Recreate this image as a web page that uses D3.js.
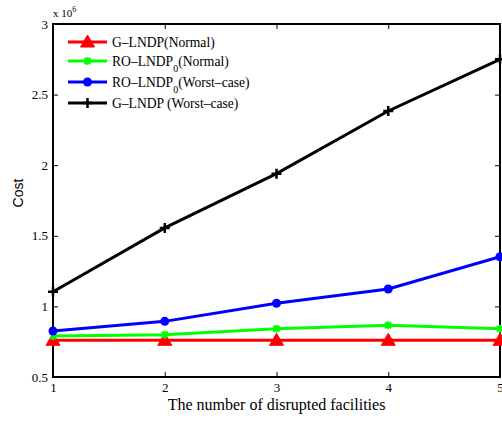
<!DOCTYPE html>
<html>
<head>
<meta charset="utf-8">
<script src="https://cdn.jsdelivr.net/npm/d3@7"></script>
<style>
body{margin:0;background:#fff;}
svg{display:block;}
</style>
</head>
<body>
<svg></svg>
<script>
var width=502;
var height=421;
var padLeft=53, padRight=500, padTop=24, padBottom=377;

var facilities=[1,2,3,4,5];
var gNormal=[0.76,0.76,0.76,0.76,0.76];
var roNormal=[0.79,0.80,0.842,0.866,0.842];
var roWorst=[0.826,0.894,1.022,1.123,1.352];
var gWorst=[1.104,1.556,1.94,2.384,2.75];
var yTicks=[0.5,1,1.5,2,2.5,3];
var legendNames=["G\u2013LNDP(Normal)","RO\u2013LNDP0(Normal)","RO\u2013LNDP0(Worst\u2013case)","G\u2013LNDP (Worst\u2013case)"];

var series=[
	{vals:gNormal,color:"#ff0000",marker:"tri"},
	{vals:roNormal,color:"#00ff00",marker:"x"},
	{vals:roWorst,color:"#0000ff",marker:"dot"},
	{vals:gWorst,color:"#000000",marker:"plus"}
];

var svg=d3.select("svg")
	.attr("width",width)
	.attr("height",height);

var scalex=d3.scaleLinear()
	.domain([1,5])
	.range([padLeft,padRight]);

var scaley=d3.scaleLinear()
	.domain([0.5,3])
	.range([padBottom,padTop]);

// axes, ticks pointing inward like matlab
svg.append("g")
	.attr("transform","translate(0,"+padBottom+")")
	.call(d3.axisBottom(scalex).tickValues(facilities).tickFormat(d3.format("d")).tickSizeInner(-5).tickSizeOuter(0).tickPadding(6))
	.call(g=>g.select(".domain").remove());

svg.append("g")
	.attr("transform","translate(0,"+padTop+")")
	.call(d3.axisTop(scalex).tickValues(facilities).tickFormat("").tickSizeInner(-5).tickSizeOuter(0))
	.call(g=>g.select(".domain").remove());

svg.append("g")
	.attr("transform","translate("+padLeft+",0)")
	.call(d3.axisLeft(scaley).tickValues(yTicks).tickFormat(d=>d).tickSizeInner(-5).tickSizeOuter(0).tickPadding(5))
	.call(g=>g.select(".domain").remove());

svg.append("g")
	.attr("transform","translate("+padRight+",0)")
	.call(d3.axisRight(scaley).tickValues(yTicks).tickFormat("").tickSizeInner(-5).tickSizeOuter(0))
	.call(g=>g.select(".domain").remove());

svg.selectAll(".tick line").attr("stroke","#000");
svg.selectAll(".tick text")
	.attr("fill","#000")
	.style("font-family","Liberation Serif, serif")
	.style("font-size","13px");

svg.append("rect")
	.attr("x",padLeft)
	.attr("y",padTop)
	.attr("width",padRight-padLeft)
	.attr("height",padBottom-padTop)
	.attr("fill","none")
	.attr("stroke","#000")
	.attr("stroke-width",2);

var line=d3.line()
	.x((d,i)=>scalex(facilities[i]))
	.y(d=>scaley(d));

function drawMarker(g,type,x,y,color)
{
	if(type=="tri"){
		g.append("path")
			.attr("d","M"+x+","+(y-7)+"L"+(x+7)+","+(y+5)+"L"+(x-7)+","+(y+5)+"Z")
			.attr("fill",color).attr("stroke",color).attr("stroke-width",1);
	}else if(type=="dot"){
		g.append("circle").attr("cx",x).attr("cy",y).attr("r",4.5).attr("fill",color);
	}else if(type=="x"){
		g.append("path")
			.attr("d","M"+(x-3)+","+(y-3)+"L"+(x+3)+","+(y+3)+"M"+(x-3)+","+(y+3)+"L"+(x+3)+","+(y-3)+"M"+x+","+(y-4)+"L"+x+","+(y+4))
			.attr("stroke",color).attr("stroke-width",2);
	}else{
		g.append("path")
			.attr("d","M"+(x-5)+","+y+"L"+(x+5)+","+y+"M"+x+","+(y-5)+"L"+x+","+(y+5))
			.attr("stroke",color).attr("stroke-width",2.5);
	}
}

series.forEach(function(s){
	var g=svg.append("g");
	g.append("path")
		.datum(s.vals)
		.attr("d",line)
		.attr("fill","none")
		.attr("stroke",s.color)
		.attr("stroke-width",3);
	s.vals.forEach(function(v,i){
		drawMarker(g,s.marker,scalex(facilities[i]),scaley(v),s.color);
	});
});

// legend
var legY=[42,61,82,103];
series.forEach(function(s,i){
	var g=svg.append("g");
	g.append("line")
		.attr("x1",68).attr("x2",107)
		.attr("y1",legY[i]).attr("y2",legY[i])
		.attr("stroke",s.color).attr("stroke-width",3);
	drawMarker(g,s.marker,87.5,legY[i],s.color);
	var t=g.append("text")
		.attr("x",112)
		.attr("y",legY[i]+4.5)
		.style("font-family","Liberation Serif, serif")
		.style("font-size","13.6px");
	var name=legendNames[i];
	if(name.indexOf("LNDP0")>=0){
		var parts=name.split("LNDP0");
		t.append("tspan").text(parts[0]+"LNDP");
		t.append("tspan").attr("dy",6).style("font-size","10px").text("0");
		t.append("tspan").attr("dy",-6).text(parts[1]);
	}else{
		t.text(name);
	}
});

// exponent label
var ex=svg.append("text")
	.attr("x",53)
	.attr("y",17)
	.style("font-family","Liberation Serif, serif")
	.style("font-size","11px");
ex.append("tspan").text("x 10");
ex.append("tspan").attr("dy",-5).style("font-size","8px").text("6");

svg.append("text")
	.attr("x",276.5)
	.attr("y",410)
	.style("text-anchor","middle")
	.style("font-family","Liberation Serif, serif")
	.style("font-size","16px")
	.text("The number of disrupted facilities");

svg.append("text")
	.attr("transform","translate(22.5,193) rotate(-90)")
	.style("text-anchor","middle")
	.style("font-family","Liberation Sans, Arial, sans-serif")
	.style("font-size","14px")
	.text("Cost");
</script>
</body>
</html>
